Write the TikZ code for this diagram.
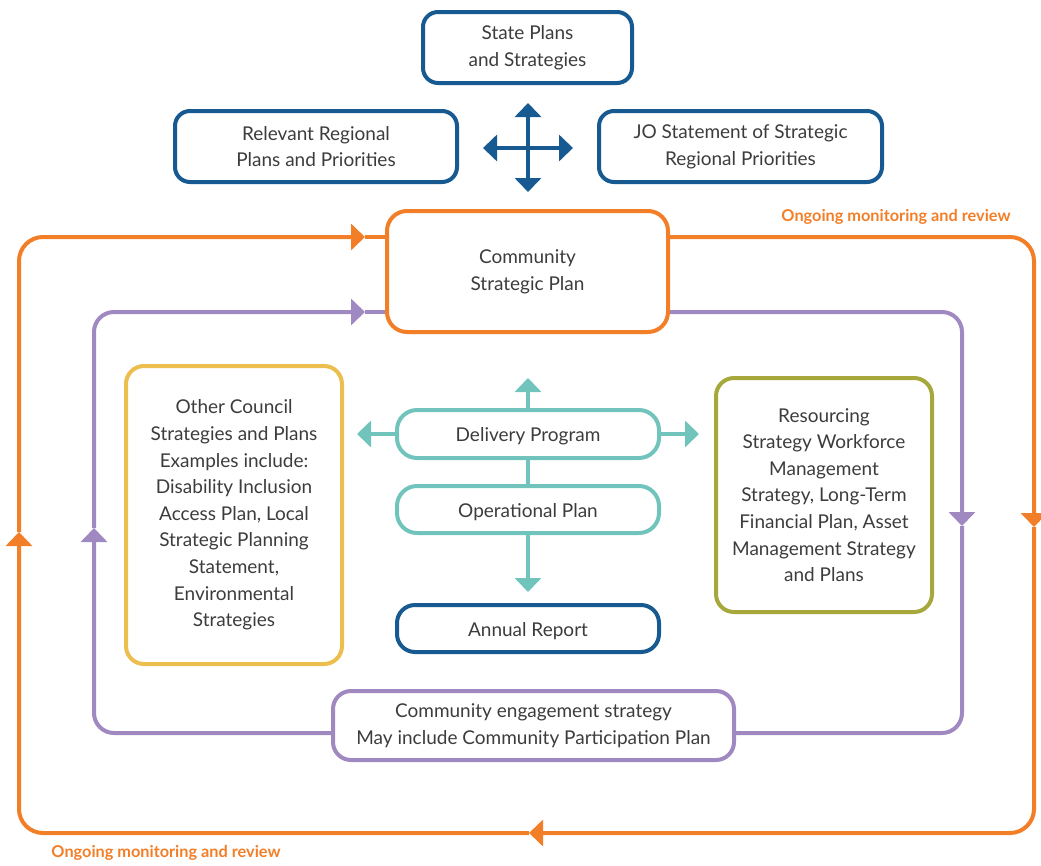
\documentclass[tikz,border=0pt]{standalone}
\usepackage{fontspec}
\setmainfont{Lato}
\usetikzlibrary{arrows.meta}
\definecolor{ipblue}{RGB}{22,90,145}
\definecolor{iporange}{RGB}{243,126,40}
\definecolor{ippurple}{RGB}{160,136,192}
\definecolor{ipyellow}{RGB}{236,190,78}
\definecolor{ipolive}{RGB}{166,168,60}
\definecolor{ipteal}{RGB}{112,196,188}
\definecolor{iptext}{RGB}{60,60,60}
\begin{document}
\begin{tikzpicture}[x=1pt,y=-1pt,
  every node/.style={font=\fontsize{19}{26.6}\selectfont, text=iptext, align=center, inner sep=0pt},
  % a tall strut on the first line sets the text slightly below the box centre
  lowtext/.style={execute at begin node={\rule{0pt}{19pt}}},
  plan/.style={draw, line width=4pt, rounded corners=15pt, lowtext},
  pill/.style={draw=ipteal, line width=4pt, rounded corners=20pt, lowtext},
  tip/.style={-{Triangle[length=14pt,width=26pt]}},
  loopline/.style={line width=4pt},
  loopnote/.style={font=\fontsize{16.3}{18}\selectfont\bfseries, text=iporange}
]
\useasboundingbox (0,0) rectangle (1041,865);

% planning hierarchy at the top
\node[plan, draw=ipblue, minimum width=209pt, minimum height=71pt] (state) at (527.5,47.5) {State Plans\\and Strategies};
\node[plan, draw=ipblue, minimum width=282pt, minimum height=71pt] (regional) at (316,146.5) {Relevant Regional\\Plans and Priorities};
\node[plan, draw=ipblue, minimum width=283pt, minimum height=71pt] (jo) at (740.5,146.5) {JO Statement of Strategic\\Regional Priorities};
\node[plan, draw=iporange, rounded corners=20pt, minimum width=281pt, minimum height=121pt] (csp) at (527.5,271.5) {Community\\Strategic Plan};

% four-way exchange between the regional and state levels
\coordinate (hub) at (528,148);
\coordinate (hubN) at (528,103);
\coordinate (hubS) at (528,192);
\coordinate (hubW) at (483,148);
\coordinate (hubE) at (573,148);
\begin{scope}[draw=ipblue, line width=4.5pt, tip, ipblue]
  \draw (hub) -- (hubN);
  \draw (hub) -- (hubS);
  \draw (hub) -- (hubW);
  \draw (hub) -- (hubE);
\end{scope}

% side documents
\node[plan, draw=ipyellow, rounded corners=18pt, minimum width=216pt, minimum height=298pt] (other) at (234,515)
  {Other Council\\Strategies and Plans\\Examples include:\\Disability Inclusion\\Access Plan, Local\\Strategic Planning\\Statement,\\Environmental\\Strategies};
\node[plan, draw=ipolive, rounded corners=18pt, minimum width=216pt, minimum height=234pt] (resourcing) at (824,495)
  {Resourcing\\Strategy Workforce\\Management\\Strategy, Long-Term\\Financial Plan, Asset\\Management Strategy\\and Plans};

% delivery chain
\node[pill, minimum width=262pt, minimum height=48pt] (delivery) at (528,434) {Delivery Program};
\node[pill, minimum width=262pt, minimum height=47pt] (operational) at (528,509.5) {Operational Plan};
\node[plan, draw=ipblue, rounded corners=18pt, minimum width=262pt, minimum height=47pt] (annual) at (528,628.5) {Annual Report};

\begin{scope}[draw=ipteal, line width=4.5pt, ipteal]
  \draw[tip] (delivery.north) -- ++(0,-30) coordinate (dN);
  \draw[tip] (delivery.west) -- ++(-38,0) coordinate (dW);
  \draw[tip] (delivery.east) -- ++(38,0) coordinate (dE);
  \draw (delivery.south) -- (operational.north);
  \draw[tip] (operational.south) -- ++(0,57) coordinate (oS);
\end{scope}

% engagement
\node[plan, draw=ippurple, rounded corners=18pt, minimum width=401pt, minimum height=69pt] (engage) at (533.5,725.5)
  {Community engagement strategy\\May include Community Participation Plan};

% inner engagement loop
\coordinate (pTR) at (962,312);
\coordinate (pBR) at (962,733);
\coordinate (pBL) at (94,733);
\coordinate (pTL) at (94,312);
\coordinate (pR) at (962,526);
\coordinate (pL) at (94,528);
\coordinate (pT) at (365,312);
\begin{scope}[draw=ippurple, fill=ippurple, loopline, rounded corners=20pt]
  \draw[tip] (csp.east |- pTR) -- (pTR) -- (pR);
  \draw (pR) -- (pBR) -- (engage.east |- pBR);
  \draw[tip] (engage.west |- pBL) -- (pBL) -- (pL);
  \draw[tip] (pL) -- (pTL) -- (pT);
  \draw (pT) -- (csp.west |- pT);
\end{scope}

% outer monitoring loop
\coordinate (oTR) at (1034,237);
\coordinate (oBR) at (1034,833);
\coordinate (oBL) at (19,833);
\coordinate (oTL) at (19,237);
\coordinate (oR) at (1034,527);
\coordinate (oB) at (529,833);
\coordinate (oL) at (19,532);
\coordinate (oT) at (365,237);
\begin{scope}[draw=iporange, fill=iporange, loopline, rounded corners=24pt]
  \draw[tip] (csp.east |- oTR) -- (oTR) -- (oR);
  \draw[tip] (oR) -- (oBR) -- (oB);
  \draw[tip] (oB) -- (oBL) -- (oL);
  \draw[tip] (oL) -- (oTL) -- (oT);
  \draw (oT) -- (csp.west |- oT);
\end{scope}

\node[loopnote] (noteTop) at (896,217) {Ongoing monitoring and review};
\node[loopnote] (noteBottom) at (166,853) {Ongoing monitoring and review};
\end{tikzpicture}
\end{document}
